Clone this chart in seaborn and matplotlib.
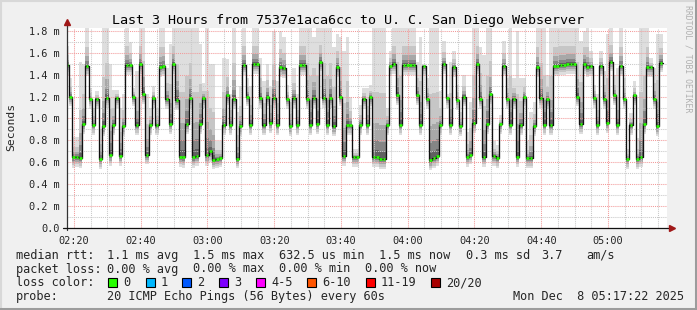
import numpy as np
import pandas as pd
import matplotlib
matplotlib.use("Agg")
import matplotlib.pyplot as plt
from matplotlib.patches import Rectangle
from matplotlib.lines import Line2D
from matplotlib.ticker import MultipleLocator
import seaborn as sns

# ---------------- data ----------------
median_rtt = [
    1.49, 1.20, 0.65, 0.65, 0.64, 0.95, 1.48, 1.18, 0.94, 1.18,
    0.63, 0.93, 1.19, 0.67, 0.94, 1.19, 0.66, 0.93, 1.49, 1.49,
    1.20, 0.94, 1.50, 1.22, 0.67, 0.94, 1.19, 0.94, 1.47, 1.48,
    1.18, 0.95, 1.50, 1.17, 0.65, 0.65, 0.95, 1.19, 0.65, 0.66,
    0.95, 1.19, 0.67, 0.70, 0.62, 0.63, 0.64, 0.94, 1.21, 0.94,
    1.18, 0.63, 0.93, 1.49, 1.20, 0.94, 1.50, 1.50, 1.19, 0.94,
    1.20, 0.96, 1.19, 0.94, 1.47, 1.46, 1.18, 0.93, 1.19, 0.94,
    1.49, 1.49, 1.18, 0.94, 1.19, 0.95, 1.52, 1.19, 0.94, 1.19,
    0.93, 1.47, 1.20, 0.66, 0.94, 0.94, 0.65, 0.65, 0.94, 1.18,
    0.94, 1.20, 0.65, 0.65, 0.63, 0.63, 0.94, 1.48, 1.50, 1.21,
    0.94, 1.49, 1.49, 1.49, 1.49, 1.21, 0.94, 1.48, 1.18, 0.62,
    0.64, 0.66, 0.94, 1.50, 1.19, 0.94, 1.47, 1.17, 0.93, 1.20,
    0.65, 0.67, 0.96, 1.50, 1.18, 0.65, 0.95, 1.22, 0.66, 0.64,
    0.95, 1.48, 1.18, 0.94, 1.18, 0.65, 0.94, 1.20, 0.64, 0.64,
    0.93, 1.47, 1.19, 0.94, 1.18, 0.94, 1.48, 1.48, 1.49, 1.49,
    1.50, 1.50, 1.50, 1.20, 0.95, 1.50, 1.47, 1.48, 1.19, 0.94,
    1.48, 1.18, 0.96, 1.52, 1.21, 0.94, 1.48, 1.18, 0.63, 0.94,
    1.21, 0.63, 0.65, 0.95, 1.47, 1.47, 1.18, 0.93, 1.51,
]

smoke_hi = [
    1.66, 1.37, 0.83, 0.83, 1.52, 1.50, 1.83, 1.28, 1.10, 1.25,
    0.90, 1.83, 1.83, 1.50, 1.26, 1.26, 1.10, 1.22, 1.83, 1.70,
    1.28, 1.43, 1.83, 1.83, 1.22, 1.10, 1.30, 1.10, 1.83, 1.83,
    1.46, 1.68, 1.83, 1.83, 1.83, 1.83, 1.83, 1.83, 1.83, 1.83,
    1.68, 1.32, 1.83, 1.50, 1.50, 0.79, 0.79, 1.55, 1.54, 1.22,
    1.83, 1.06, 1.30, 1.83, 1.37, 1.30, 1.83, 1.83, 1.55, 1.34,
    1.50, 1.29, 1.80, 1.34, 1.80, 1.74, 1.31, 1.15, 1.46, 1.22,
    1.83, 1.83, 1.83, 1.83, 1.74, 1.83, 1.83, 1.83, 1.83, 1.83,
    1.65, 1.77, 1.74, 1.62, 1.74, 1.20, 0.72, 0.72, 1.12, 1.28,
    1.28, 1.31, 1.83, 1.83, 1.83, 1.83, 1.10, 1.62, 1.83, 1.83,
    1.83, 1.83, 1.83, 1.83, 1.83, 1.52, 1.74, 1.50, 1.37, 1.83,
    1.83, 1.83, 1.25, 1.71, 1.22, 1.52, 1.62, 1.31, 1.06, 1.40,
    0.88, 1.15, 1.83, 1.83, 1.65, 1.58, 1.83, 1.83, 0.79, 0.76,
    1.03, 1.71, 1.37, 1.83, 1.37, 1.80, 1.37, 1.37, 0.79, 1.06,
    1.15, 1.83, 1.83, 1.83, 1.40, 1.83, 1.83, 1.83, 1.83, 1.83,
    1.83, 1.83, 1.83, 1.83, 1.71, 1.80, 1.83, 1.62, 1.31, 1.22,
    1.62, 1.43, 1.77, 1.83, 1.40, 1.46, 1.83, 1.37, 0.72, 1.05,
    1.34, 0.82, 1.83, 1.83, 1.83, 1.55, 1.46, 1.77, 1.77,
]

smoke_lo = [
    1.40, 1.11, 0.55, 0.56, 0.55, 0.86, 1.39, 1.09, 0.85, 1.09,
    0.54, 0.84, 1.10, 0.57, 0.85, 1.10, 0.57, 0.84, 1.40, 1.40,
    1.11, 0.85, 1.41, 1.13, 0.58, 0.85, 1.10, 0.85, 1.38, 1.39,
    1.09, 0.86, 1.41, 1.08, 0.56, 0.55, 0.86, 1.10, 0.55, 0.57,
    0.86, 1.10, 0.57, 0.60, 0.54, 0.55, 0.56, 0.85, 1.12, 0.85,
    1.09, 0.55, 0.84, 1.40, 1.11, 0.85, 1.41, 1.41, 1.10, 0.85,
    1.11, 0.87, 1.10, 0.85, 1.38, 1.37, 1.09, 0.84, 1.10, 0.85,
    1.40, 1.40, 1.09, 0.85, 1.10, 0.86, 1.43, 1.10, 0.85, 1.10,
    0.84, 1.38, 1.11, 0.57, 0.85, 0.85, 0.56, 0.56, 0.85, 1.09,
    0.85, 1.11, 0.56, 0.56, 0.54, 0.54, 0.85, 1.39, 1.41, 1.12,
    0.85, 1.40, 1.40, 1.40, 1.40, 1.12, 0.85, 1.39, 1.09, 0.53,
    0.55, 0.57, 0.85, 1.41, 1.10, 0.85, 1.38, 1.08, 0.84, 1.11,
    0.56, 0.58, 0.87, 1.41, 1.09, 0.56, 0.86, 1.13, 0.57, 0.55,
    0.86, 1.39, 1.09, 0.85, 1.09, 0.56, 0.85, 1.11, 0.55, 0.55,
    0.84, 1.38, 1.10, 0.85, 1.09, 0.85, 1.39, 1.39, 1.40, 1.40,
    1.41, 1.41, 1.41, 1.11, 0.86, 1.41, 1.38, 1.39, 1.10, 0.85,
    1.39, 1.09, 0.87, 1.43, 1.12, 0.85, 1.39, 1.09, 0.54, 0.85,
    1.12, 0.54, 0.56, 0.86, 1.38, 1.38, 1.09, 0.84, 1.42,
]

first_sample_minute = 137.9          # 02:17:54, minutes after midnight, one sample per minute
xtick_minutes = [140, 160, 180, 200, 220, 240, 260, 280, 300]
xtick_labels = ["02:20", "02:40", "03:00", "03:20", "03:40", "04:00", "04:20", "04:40", "05:00"]
ytick_values = [0.0, 0.2, 0.4, 0.6, 0.8, 1.0, 1.2, 1.4, 1.6, 1.8]
ytick_labels = ["0.0", "0.2 m", "0.4 m", "0.6 m", "0.8 m", "1.0 m", "1.2 m", "1.4 m", "1.6 m", "1.8 m"]

title = "Last 3 Hours from 7537e1aca6cc to U. C. San Diego Webserver"
rtt_stats = ["1.1 ms avg", "1.5 ms max", "632.5 us min", "1.5 ms now", "0.3 ms sd", "3.7", "am/s"]
loss_stats = ["0.00 % avg", "0.00 % max", "0.00 % min", "0.00 % now"]
loss_labels = ["0", "1", "2", "3", "4-5", "6-10", "11-19", "20/20"]
loss_colors = ["#26ff00", "#00b8ff", "#0059ff", "#7e00ff", "#ff00ff", "#ff5500", "#ff0000", "#a80000"]
probe_text = "20 ICMP Echo Pings (56 Bytes) every 60s"
stamp_text = "Mon Dec  8 05:17:22 2025"

# ---------------- figure ----------------
W, H = 697, 310
sns.set_style("white")
plt.rcParams["font.family"] = ["DejaVu Sans Mono", "DejaVu Sans"]

fig = plt.figure(figsize=(W / 100, H / 100), dpi=100, facecolor="#f0f0f0")


def fx(x):
    return x / W


def fy(y):
    return 1 - y / H


ax = fig.add_axes([fx(67), fy(228), 600 / W, 200 / H])
ax.set_facecolor("white")

n = len(median_rtt)
t = first_sample_minute + np.arange(n)
edges = np.append(t - 0.5, t[-1] + 0.5)
med = np.array(median_rtt)
hi = np.array(smoke_hi)
lo = np.array(smoke_lo)

# smoke: outer (light) to inner (dark) bands
up_frac = [1.0, 0.50, 0.26, 0.13, 0.05]
dn_frac = [1.0, 0.78, 0.55, 0.34, 0.15]
shades = ["#dedede", "#c6c6c6", "#a8a8a8", "#858585", "#606060"]
for fu, fd, c in zip(up_frac, dn_frac, shades):
    upper = med + (hi - med) * fu
    lower = med - (med - lo) * fd
    ax.fill_between(edges, np.append(lower, lower[-1]), np.append(upper, upper[-1]),
                    step="post", color=c, linewidth=0, zorder=1)

# median: black step line + loss-coloured marks
df = pd.DataFrame({"minute": edges, "rtt": np.append(med, med[-1])})
sns.lineplot(data=df, x="minute", y="rtt", drawstyle="steps-post", color="#101010",
             linewidth=0.95, ax=ax, zorder=3, estimator=None)
ax.hlines(med, t - 0.4, t + 0.4, colors=loss_colors[0], linewidth=1.9, zorder=4)

ax.set_xlim(137.9, 317.7)
ax.set_ylim(0, 1.826)
ax.set_xlabel("")
ax.set_ylabel("")

ax.set_xticks(xtick_minutes)
ax.set_xticklabels(xtick_labels)
ax.set_yticks(ytick_values)
ax.set_yticklabels(ytick_labels)
ax.xaxis.set_minor_locator(MultipleLocator(5))
ax.yaxis.set_minor_locator(MultipleLocator(0.1))

ax.set_axisbelow(False)
ax.grid(which="minor", color="#c8c8c8", linestyle=(0, (1, 1)), linewidth=0.75)
ax.grid(which="major", color="#f29a9a", linestyle=(0, (1, 1)), linewidth=0.75)

ax.tick_params(which="major", direction="out", length=2.5, width=0.7, color="#444444",
               labelsize=7.4, pad=3)
ax.tick_params(which="minor", direction="out", length=1.8, width=0.6, color="#666666")
for s in ax.spines.values():
    s.set_visible(False)

# axes lines with arrows
ax.add_line(Line2D([0, 0], [-0.012, 1.02], transform=ax.transAxes, color="#333333",
                   linewidth=0.9, clip_on=False, zorder=5))
ax.add_line(Line2D([-0.006, 1.006], [0, 0], transform=ax.transAxes, color="#111111",
                   linewidth=0.9, clip_on=False, zorder=5))
ax.plot([0], [1.03], marker="^", markersize=4.5, color="#a01818", transform=ax.transAxes,
        clip_on=False, zorder=6)
ax.plot([1.009], [0], marker=">", markersize=4.5, color="#a01818", transform=ax.transAxes,
        clip_on=False, zorder=6)

# ---------------- texts ----------------
fig.text(fx(348.5), fy(24), title, ha="center", va="baseline", fontsize=9.6, color="black")
fig.text(fx(11), fy(127), "Seconds", rotation=90, ha="center", va="center", fontsize=8.2)
fig.text(fx(688), fy(59), "RRDTOOL / TOBI OETIKER", rotation=270, ha="center", va="center",
         fontsize=5.9, color="#b0b0b0")

lf = 8.55
row_y = [259, 272.5, 286, 300]
fig.text(fx(16), fy(row_y[0]), "median rtt:", fontsize=lf, va="baseline")
for x, s in zip([107, 193, 279, 379, 466, 541, 586], rtt_stats):
    fig.text(fx(x), fy(row_y[0]), s, fontsize=lf, va="baseline")

fig.text(fx(16), fy(row_y[1]), "packet loss:", fontsize=lf, va="baseline")
for x, s in zip([107, 193, 279, 365], loss_stats):
    fig.text(fx(x), fy(row_y[1]), s, fontsize=lf, va="baseline")

fig.text(fx(16), fy(row_y[2]), "loss color:", fontsize=lf, va="baseline")
box_x = [108, 146, 182, 219, 256, 307, 366, 431]
for bx, lab, col in zip(box_x, loss_labels, loss_colors):
    fig.add_artist(Rectangle((fx(bx), fy(286.5)), 8.5 / W, 8.5 / H, transform=fig.transFigure,
                             facecolor=col, edgecolor="black", linewidth=0.8))
    fig.text(fx(bx + 15), fy(row_y[2]), lab, fontsize=lf, va="baseline")

fig.text(fx(16), fy(row_y[3]), "probe:", fontsize=lf, va="baseline")
fig.text(fx(107), fy(row_y[3]), probe_text, fontsize=lf, va="baseline")
fig.text(fx(512.7), fy(row_y[3]), stamp_text, fontsize=lf, va="baseline")

# frame shading
fig.add_artist(Line2D([0, 1], [fy(0.8), fy(0.8)], transform=fig.transFigure, color="#d8d8d8", linewidth=1.5))
fig.add_artist(Line2D([fx(0.8), fx(0.8)], [0, 1], transform=fig.transFigure, color="#d8d8d8", linewidth=1.5))
fig.add_artist(Line2D([fx(695.5), fx(695.5)], [0, 1], transform=fig.transFigure, color="#9c9c9c", linewidth=2.2))
fig.add_artist(Line2D([0, 1], [fy(308.5), fy(308.5)], transform=fig.transFigure, color="#9c9c9c", linewidth=2.2))

fig.savefig("out.png", dpi=100, facecolor=fig.get_facecolor())
